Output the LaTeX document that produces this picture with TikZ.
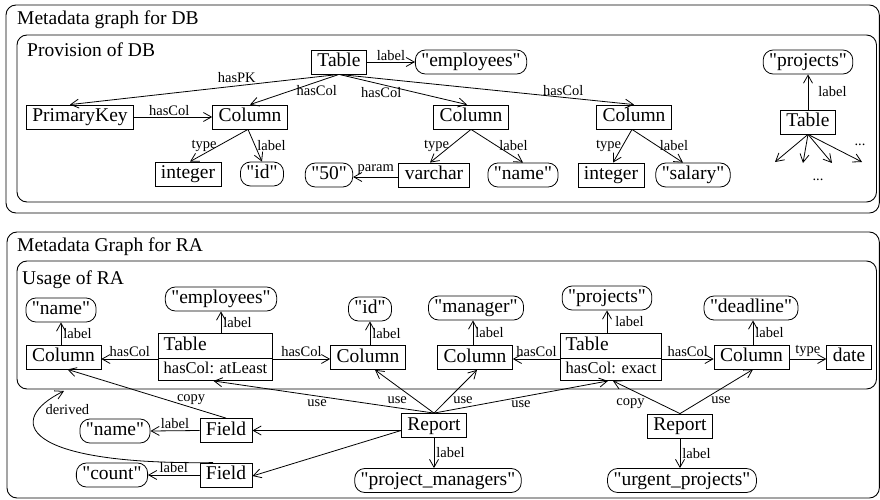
\documentclass[tikz,border=0pt]{standalone}
\usepackage{fontspec}
\setmainfont{Liberation Serif}[Ligatures=TeXOff]
\usetikzlibrary{arrows.meta,calc,shapes.multipart}
\newcommand\myNF{\fontsize{19.5}{22}\selectfont}
\newcommand\myLF{\fontsize{14.5}{16}\selectfont}
\newcommand\myTF{\fontsize{16.5}{18}\selectfont}
\tikzset{
  box/.style={draw, line width=0.8pt, font=\myNF, inner xsep=6pt, inner ysep=3pt, text height=13.5pt, text depth=4.5pt},
  str/.style={box, rounded corners=10pt},
  tbl/.style={draw, line width=0.8pt, rectangle split, rectangle split parts=2, rectangle split part align={left}, inner xsep=5pt, inner ysep=3pt, font=\myNF},
  lbl/.style={font=\myLF, inner sep=1pt},
  ttl/.style={font=\myNF, anchor=west, inner sep=0pt},
  ed/.style={-{Straight Barb[length=8pt,width=9pt]}, line width=0.8pt},
  grp/.style={draw, rounded corners=10pt, line width=0.9pt},
}
\begin{document}
\begin{tikzpicture}[x=1pt,y=-1pt]
\useasboundingbox (0,0) rectangle (880,500);
% groups
\draw[grp] (6,5) rectangle (879.3,213);
\node[ttl] (g1) at (17,20) {Metadata graph for DB};
\draw[grp] (17,35) rectangle (876.5,202);
\node[ttl] (g1i) at (27,50) {Provision of DB};
\draw[grp] (7,232) rectangle (879.3,498);
\node[ttl] (g2) at (17,247) {Metadata Graph for RA};
\draw[grp] (17,261) rectangle (876.5,389);
\node[ttl] (g2i) at (22,280) {Usage of RA};

% ---------- top graph ----------
\node[box] (T0) at (339,62) {Table};
\node[str] (Emp0) at (471,62) {"employees"};
\node[box] (PK) at (80,117) {PrimaryKey};
\node[box] (C1) at (250,117) {Column};
\node[box] (I1) at (188,174) {integer};
\node[str] (Id1) at (262,174) {"id"};
\node[box] (C2) at (471,117) {Column};
\node[str] (Fifty) at (329,175) {"50"};
\node[box] (Var) at (434,175) {varchar};
\node[str] (Name0) at (523,175) {"name"};
\node[box] (C3) at (634,117) {Column};
\node[box] (I3) at (611,175) {integer};
\node[str] (Sal) at (693,175) {"salary"};
\node[str] (Proj0) at (808,62) {"projects"};
\node[box] (T9) at (808,122) {Table};
\node[lbl] (dotsA) at (860,145) {...};
\node[lbl] (dotsB) at (818,180) {...};
\coordinate (d1) at (775,162);
\coordinate (d2) at (803,163);
\coordinate (d3) at (832,163);
\coordinate (d4) at (862,162);

\draw[ed] (T0.east) -- (Emp0.west) node[lbl, midway, above=0pt] {label};
\draw[ed] (T0.south) -- ($(PK.north)+(-10,0)$) node[lbl, pos=0.38, above=2pt] {hasPK};
\draw[ed] (T0.south) -- (C1.north) node[lbl, pos=0.25, below=2pt] {hasCol};
\draw[ed] (T0.south) -- ($(C2.north)+(-4,0)$) node[lbl, pos=0.33, below=2pt] {hasCol};
\draw[ed] (T0.south) -- (C3.north) node[lbl, pos=0.76, above=0pt] {hasCol};
\draw[ed] (PK.east) -- (C1.west) node[lbl, pos=0.45, above=0pt] {hasCol};
\draw[ed] ($(C1.south)+(-2,0)$) -- ($(I1.north)+(2,0)$) node[lbl, midway, left=1pt] {type};
\draw[ed] ($(C1.south)+(-2,0)$) -- (Id1.north) node[lbl, midway, right=1pt] {label};
\draw[ed] (C2.south) -- ($(Var.north)+(-4,0)$) node[lbl, midway, left=0pt] {type};
\draw[ed] (C2.south) -- (Name0.north) node[lbl, midway, right=1pt] {label};
\draw[ed] ($(Var.west)+(0,2)$) -- ($(Fifty.east)+(0,2)$) node[lbl, midway, above=1pt] {param};
\draw[ed] ($(C3.south)+(-2,0)$) -- ($(I3.north)+(2,0)$) node[lbl, midway, left=0pt] {type};
\draw[ed] ($(C3.south)+(-2,0)$) -- ($(Sal.north)+(-10,0)$) node[lbl, midway, right=1pt] {label};
\draw[ed] (T9.north) -- (Proj0.south) node[lbl, midway, right=9pt] {label};
\foreach \d in {d1,d2,d3,d4} \draw[ed] (T9.south) -- (\d);

% ---------- bottom graph ----------
\node[str] (N1) at (61,310) {"name"};
\node[box] (C4) at (63.5,357) {Column};
\node[str] (E1) at (221,299) {"employees"};
\node[tbl] (TA) at (215.5,357) {Table\rule[-4.5pt]{0pt}{18pt}\nodepart{two}\myTF hasCol: atLeast\rule[-4pt]{0pt}{14pt}};
\node[str] (Id2) at (370,309) {"id"};
\node[box] (C5) at (368,357.5) {Column};
\node[str] (M1) at (476,308) {"manager"};
\node[box] (C6) at (475,357.5) {Column};
\node[str] (P1) at (607,298) {"projects"};
\node[tbl] (TE) at (611,357) {Table\rule[-4.5pt]{0pt}{18pt}\nodepart{two}\myTF hasCol: exact\rule[-4pt]{0pt}{14pt}};
\node[str] (D1) at (751,308) {"deadline"};
\node[box] (C7) at (751.5,357) {Column};
\node[box] (Dt) at (849,357) {date};
\node[box] (R1) at (434,425.5) {Report};
\node[str] (PM) at (438,480.5) {"project\_managers"};
\node[box] (R2) at (680,426) {Report};
\node[str] (UP) at (682,480.5) {"urgent\_projects"};
\node[box] (F1) at (226,430.5) {Field};
\node[box] (F2) at (226,475) {Field};
\node[str] (N2) at (115,431) {"name"};
\node[str] (Cnt) at (112,475) {"count"};
\coordinate (dv) at (64,391);
\coordinate (mA) at ($(M1.south)+(-3,0)$);
\coordinate (dA) at ($(D1.south)+(2,0)$);

\draw[ed] (N1.south |- C4.north) -- (N1.south) node[lbl, midway, right=1pt] {label};
\draw[ed] (E1.south |- TA.north) -- (E1.south) node[lbl, midway, right=1pt] {label};
\draw[ed] (Id2.south |- C5.north) -- (Id2.south) node[lbl, midway, right=1pt] {label};
\draw[ed] (mA |- C6.north) -- (mA) node[lbl, midway, right=1pt] {label};
\draw[ed] (TE.north -| P1.south) -- (P1.south) node[lbl, midway, right=7pt] {label};
\draw[ed] (dA |- C7.north) -- (dA) node[lbl, midway, right=1pt] {label};

\draw[ed] ($(TA.west)+(0,2)$) -- ($(C4.east)+(0,2)$) node[lbl, midway, above=1pt] {hasCol};
\draw[ed] ($(TA.east)+(0,2)$) -- ($(C5.west)+(0,1.5)$) node[lbl, midway, above=1pt] {hasCol};
\draw[ed] ($(TE.west)+(0,2)$) -- ($(C6.east)+(0,1.5)$) node[lbl, midway, above=1pt] {hasCol};
\draw[ed] ($(TE.east)+(0,2)$) -- ($(C7.west)+(0,2)$) node[lbl, midway, above=1pt] {hasCol};
\draw[ed] ($(C7.east)+(0,2)$) -- ($(Dt.west)+(0,2)$) node[lbl, midway, above=1pt] {type};

\draw[ed] (R1.north) -- ($(C5.south)+(7,0)$) node[lbl, pos=0.3, left=8pt] {use};
\draw[ed] (R1.north) -- ($(C6.south)+(2,0)$) node[lbl, pos=0.3, right=5pt] {use};
\draw[ed] (R1.north) -- ($(TA.south)+(-2,0)$) node[lbl, pos=0.53, below=2pt] {use};
\draw[ed] (R1.north) -- ($(TE.south)+(-3,0)$) node[lbl, pos=0.5, below=2pt] {use};
\draw[ed] (R1.west |- F1.east) -- (F1.east);
\draw[ed] (R1.west |- F1.east) -- ($(F2.east)+(0,1)$);
\draw[ed] (F1.north) -- ($(C4.south)+(4,0)$) node[lbl, pos=0.22, above=1pt] {copy};
\draw[ed] ($(F2.north)+(-13,0)$) .. controls (20,465) and (5,420) .. (dv) node[lbl, pos=0.8, right=6pt] {derived};
\draw[ed] (F1.west) -- (N2.east) node[lbl, midway, above=1pt] {label};
\draw[ed] (F2.west) -- (Cnt.east) node[lbl, midway, above=1pt] {label};
\draw[ed] (R1.south) -- (R1.south |- PM.north) node[lbl, midway, right=1pt] {label};
\draw[ed] (R2.south) -- (R2.south |- UP.north) node[lbl, midway, right=1pt] {label};
\draw[ed] (R2.north) -- ($(TE.south)+(2,0)$) node[lbl, pos=0.3, left=14pt] {copy};
\draw[ed] (R2.north) -- ($(C7.south)+(1.5,0)$) node[lbl, pos=0.3, right=8pt] {use};
\end{tikzpicture}
\end{document}
